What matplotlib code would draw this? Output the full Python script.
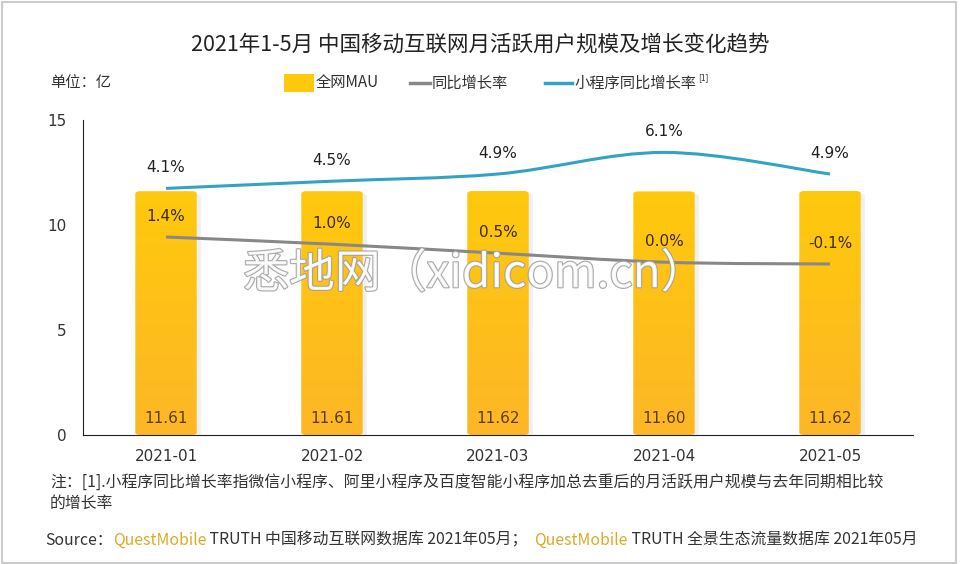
import numpy as np
import matplotlib.pyplot as plt
from matplotlib.path import Path
from matplotlib.patches import PathPatch, FancyBboxPatch, Rectangle
from matplotlib.colors import LinearSegmentedColormap
import matplotlib.patheffects as pe

plt.rcParams['font.family'] = ['Noto Sans CJK SC', 'DejaVu Sans']

months = ['2021-01', '2021-02', '2021-03', '2021-04', '2021-05']
mau = [11.61, 11.61, 11.62, 11.60, 11.62]
yoy = [1.4, 1.0, 0.5, 0.0, -0.1]
mini_yoy = [4.1, 4.5, 4.9, 6.1, 4.9]

BAR_TOP = '#FFC90C'
BAR_BOT = '#FDB726'
GRAY = '#888888'
BLUE = '#34A2C2'
GOLD = '#DDA928'


def smooth_path(xs, ys, t=0.5):
    # catmull-rom segments as cubic bezier
    verts = [(xs[0], ys[0])]
    codes = [Path.MOVETO]
    n = len(xs)
    for i in range(n - 1):
        x0, y0 = (xs[i - 1], ys[i - 1]) if i > 0 else (xs[i], ys[i])
        x1, y1 = xs[i], ys[i]
        x2, y2 = xs[i + 1], ys[i + 1]
        x3, y3 = (xs[i + 2], ys[i + 2]) if i + 2 < n else (x2, y2)
        c1 = (x1 + (x2 - x0) * t / 3, y1 + (y2 - y0) * t / 3)
        c2 = (x2 - (x3 - x1) * t / 3, y2 - (y3 - y1) * t / 3)
        verts += [c1, c2, (x2, y2)]
        codes += [Path.CURVE4] * 3
    return Path(verts, codes)


fig = plt.figure(figsize=(9.6, 5.64), dpi=100)
fig.patches.append(Rectangle((0.002, 0.002), 0.994, 0.994, transform=fig.transFigure,
                             fill=False, edgecolor='#cccccc', lw=1.5))

ax = fig.add_axes([83 / 960, 1 - 435 / 564, 830 / 960, 315 / 564])
x = np.arange(len(months))

grad = np.linspace(0, 1, 256).reshape(-1, 1)
cmap = LinearSegmentedColormap.from_list('bar', [BAR_BOT, BAR_TOP])
w = 0.37
for xi, v in zip(x, mau):
    # soft shadow
    sh = FancyBboxPatch((xi - w / 2 + 0.025, 0), w, v - 0.15,
                        boxstyle='round,pad=0,rounding_size=0.02',
                        mutation_aspect=3, facecolor='#000000', alpha=0.06,
                        edgecolor='none', zorder=1)
    ax.add_patch(sh)
    box = FancyBboxPatch((xi - w / 2, 0), w, v,
                         boxstyle='round,pad=0,rounding_size=0.03',
                         mutation_aspect=4, facecolor='none', edgecolor='none', zorder=2)
    ax.add_patch(box)
    im = ax.imshow(grad, extent=(xi - w / 2, xi + w / 2, 0, v), origin='lower',
                   cmap=cmap, aspect='auto', zorder=2)
    im.set_clip_path(box)
    ax.text(xi, 0.8, f'{v:.2f}', ha='center', va='center', fontsize=11,
            color='#5a3d10', family='DejaVu Sans', zorder=5)
ax.set_xlim(-0.5, 4.5)
ax.set_ylim(0, 15)

ax.set_xticks(x)
ax.set_xticklabels(months, fontsize=11, color='#333333', family='DejaVu Sans')
ax.set_yticks([0, 5, 10, 15])
ax.set_yticklabels(['0', '5', '10', '15'], fontsize=11, color='#333333', family='DejaVu Sans')
ax.tick_params(length=0, pad=12)
ax.tick_params(axis='x', pad=10)
for s in ['top', 'right']:
    ax.spines[s].set_visible(False)
ax.spines['left'].set_color('#222222')
ax.spines['bottom'].set_color('#222222')

ax2 = ax.twinx()
ax2.set_ylim(-9.6, 7.9)
ax2.set_xlim(-0.5, 4.5)
ax2.axis('off')
ax2.add_patch(PathPatch(smooth_path(list(x), yoy), facecolor='none', edgecolor=GRAY, lw=2.2, zorder=4))
ax2.add_patch(PathPatch(smooth_path(list(x), mini_yoy), facecolor='none', edgecolor=BLUE, lw=2.2, zorder=4))
for xi, v in zip(x, yoy):
    ax2.text(xi, v + 0.75, f'{v:.1f}%', ha='center', va='bottom', fontsize=11,
             color='#3a2a10', family='DejaVu Sans', zorder=5)
for xi, v in zip(x, mini_yoy):
    ax2.text(xi, v + 0.75, f'{v:.1f}%', ha='center', va='bottom', fontsize=11,
             color='#222222', family='DejaVu Sans', zorder=5)

# watermark
fig.text(475 / 960, 1 - 274 / 564, '悉地网（xidicom.cn）', ha='center', va='center', fontsize=33,
         color='white', alpha=0.9, zorder=10,
         path_effects=[pe.withStroke(linewidth=1.6, foreground='#a0a0a0')])

fig.text(0.5, 1 - 45 / 564, '2021年1-5月 中国移动互联网月活跃用户规模及增长变化趋势',
         ha='center', va='center', fontsize=15.5, color='#222222')
fig.text(50 / 960, 1 - 83 / 564, '单位：亿', ha='left', va='center', fontsize=11, color='#333333')

fig.canvas.draw()
r = fig.canvas.get_renderer()

# legend
fig.patches.append(Rectangle((284 / 960, 1 - 92 / 564), 30 / 960, 18 / 564,
                             transform=fig.transFigure, facecolor=BAR_TOP, edgecolor='none'))
fig.text(316 / 960, 1 - 83 / 564, '全网MAU', ha='left', va='center', fontsize=11, color='#333333')
fig.lines.append(plt.Line2D([410 / 960, 430 / 960], [1 - 83 / 564] * 2, transform=fig.transFigure,
                            color=GRAY, lw=2.5))
fig.text(432 / 960, 1 - 83 / 564, '同比增长率', ha='left', va='center', fontsize=11, color='#333333')
fig.lines.append(plt.Line2D([545 / 960, 572 / 960], [1 - 83 / 564] * 2, transform=fig.transFigure,
                            color=BLUE, lw=2.5))
t = fig.text(574 / 960, 1 - 83 / 564, '小程序同比增长率', ha='left', va='center', fontsize=11, color='#333333')
bb = t.get_window_extent(renderer=r)
fig.text(bb.x1 / fig.bbox.width + 2 / 960, 1 - 78 / 564, '[1]', ha='left', va='center',
         fontsize=6, color='#333333')

fig.text(50 / 960, 1 - 482 / 564,
         '注：[1].小程序同比增长率指微信小程序、阿里小程序及百度智能小程序加总去重后的月活跃用户规模与去年同期相比较',
         ha='left', va='center', fontsize=11.4, color='#333333')
fig.text(50 / 960, 1 - 503 / 564, '的增长率', ha='left', va='center', fontsize=11.4, color='#333333')

# source line
y_src = 1 - 540 / 564
parts = [('Source：', '#333333'), ('QuestMobile', GOLD), (' TRUTH 中国移动互联网数据库 2021年05月；  ', '#333333'),
         ('QuestMobile', GOLD), (' TRUTH 全景生态流量数据库 2021年05月', '#333333')]
xpos = 45 / 960
for s, c in parts:
    t = fig.text(xpos, y_src, s, ha='left', va='center', fontsize=11.4, color=c)
    bb = t.get_window_extent(renderer=r)
    xpos += bb.width / fig.bbox.width

fig.savefig('out.png', dpi=100)
